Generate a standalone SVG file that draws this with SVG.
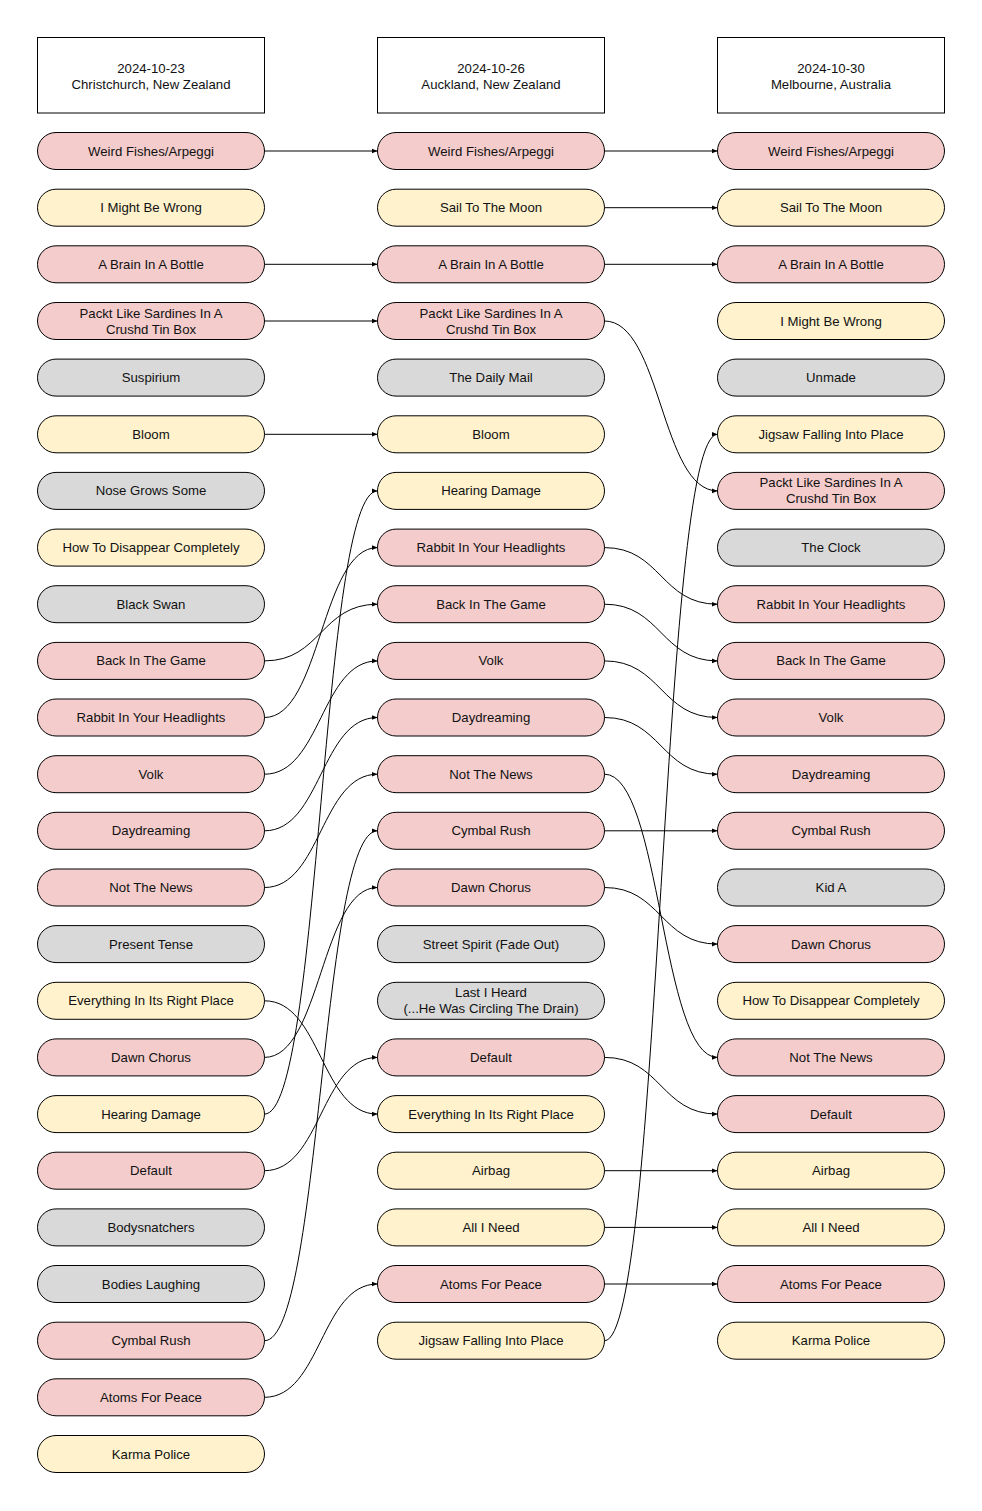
<svg xmlns="http://www.w3.org/2000/svg" width="982" height="1511" viewBox="0 0 982 1511">
<defs>
<marker id="ah" markerWidth="6" markerHeight="6" refX="6" refY="3" orient="auto" markerUnits="userSpaceOnUse"><path d="M0,0.5 L6,3 L0,5.5 z" fill="#000"/></marker>
<style>
.hd{fill:#fff;stroke:#000;stroke-width:1}
.p{fill:#f4cccc;stroke:#000;stroke-width:1}
.y{fill:#fff2cc;stroke:#000;stroke-width:1}
.g{fill:#d9d9d9;stroke:#000;stroke-width:1}
text{font-family:"Liberation Sans",Arial,sans-serif;font-size:13.2px;fill:#111;text-anchor:middle}
.c path{fill:none;stroke:#000;stroke-width:1;marker-end:url(#ah)}
</style>
</defs>
<rect width="982" height="1511" fill="#fff"/>
<g id="h1"><rect class="hd" x="37.5" y="37.5" width="227" height="75.5"/><text x="151" y="72.5">2024-10-23</text><text x="151" y="88.5">Christchurch, New Zealand</text></g>
<g id="h2"><rect class="hd" x="377.5" y="37.5" width="227" height="75.5"/><text x="491" y="72.5">2024-10-26</text><text x="491" y="88.5">Auckland, New Zealand</text></g>
<g id="h3"><rect class="hd" x="717.5" y="37.5" width="227" height="75.5"/><text x="831" y="72.5">2024-10-30</text><text x="831" y="88.5">Melbourne, Australia</text></g>

<g id="a1"><rect class="p" x="37.5" y="132.5" width="227" height="37" rx="18.5"/><text x="151" y="155.5">Weird Fishes/Arpeggi</text></g>
<g id="a2"><rect class="y" x="37.5" y="189.2" width="227" height="37" rx="18.5"/><text x="151" y="212.2">I Might Be Wrong</text></g>
<g id="a3"><rect class="p" x="37.5" y="245.8" width="227" height="37" rx="18.5"/><text x="151" y="268.8">A Brain In A Bottle</text></g>
<g id="a4"><rect class="p" x="37.5" y="302.5" width="227" height="37" rx="18.5"/><text x="151" y="317.5">Packt Like Sardines In A</text><text x="151" y="333.5">Crushd Tin Box</text></g>
<g id="a5"><rect class="g" x="37.5" y="359.1" width="227" height="37" rx="18.5"/><text x="151" y="382.1">Suspirium</text></g>
<g id="a6"><rect class="y" x="37.5" y="415.8" width="227" height="37" rx="18.5"/><text x="151" y="438.8">Bloom</text></g>
<g id="a7"><rect class="g" x="37.5" y="472.4" width="227" height="37" rx="18.5"/><text x="151" y="495.4">Nose Grows Some</text></g>
<g id="a8"><rect class="y" x="37.5" y="529.1" width="227" height="37" rx="18.5"/><text x="151" y="552.1">How To Disappear Completely</text></g>
<g id="a9"><rect class="g" x="37.5" y="585.7" width="227" height="37" rx="18.5"/><text x="151" y="608.7">Black Swan</text></g>
<g id="a10"><rect class="p" x="37.5" y="642.4" width="227" height="37" rx="18.5"/><text x="151" y="665.4">Back In The Game</text></g>
<g id="a11"><rect class="p" x="37.5" y="699" width="227" height="37" rx="18.5"/><text x="151" y="722">Rabbit In Your Headlights</text></g>
<g id="a12"><rect class="p" x="37.5" y="755.7" width="227" height="37" rx="18.5"/><text x="151" y="778.7">Volk</text></g>
<g id="a13"><rect class="p" x="37.5" y="812.3" width="227" height="37" rx="18.5"/><text x="151" y="835.3">Daydreaming</text></g>
<g id="a14"><rect class="p" x="37.5" y="869" width="227" height="37" rx="18.5"/><text x="151" y="892">Not The News</text></g>
<g id="a15"><rect class="g" x="37.5" y="925.6" width="227" height="37" rx="18.5"/><text x="151" y="948.6">Present Tense</text></g>
<g id="a16"><rect class="y" x="37.5" y="982.3" width="227" height="37" rx="18.5"/><text x="151" y="1005.3">Everything In Its Right Place</text></g>
<g id="a17"><rect class="p" x="37.5" y="1038.9" width="227" height="37" rx="18.5"/><text x="151" y="1061.9">Dawn Chorus</text></g>
<g id="a18"><rect class="y" x="37.5" y="1095.6" width="227" height="37" rx="18.5"/><text x="151" y="1118.6">Hearing Damage</text></g>
<g id="a19"><rect class="p" x="37.5" y="1152.2" width="227" height="37" rx="18.5"/><text x="151" y="1175.2">Default</text></g>
<g id="a20"><rect class="g" x="37.5" y="1208.9" width="227" height="37" rx="18.5"/><text x="151" y="1231.9">Bodysnatchers</text></g>
<g id="a21"><rect class="g" x="37.5" y="1265.5" width="227" height="37" rx="18.5"/><text x="151" y="1288.5">Bodies Laughing</text></g>
<g id="a22"><rect class="p" x="37.5" y="1322.2" width="227" height="37" rx="18.5"/><text x="151" y="1345.2">Cymbal Rush</text></g>
<g id="a23"><rect class="p" x="37.5" y="1378.8" width="227" height="37" rx="18.5"/><text x="151" y="1401.8">Atoms For Peace</text></g>
<g id="a24"><rect class="y" x="37.5" y="1435.5" width="227" height="37" rx="18.5"/><text x="151" y="1458.5">Karma Police</text></g>

<g id="b1"><rect class="p" x="377.5" y="132.5" width="227" height="37" rx="18.5"/><text x="491" y="155.5">Weird Fishes/Arpeggi</text></g>
<g id="b2"><rect class="y" x="377.5" y="189.2" width="227" height="37" rx="18.5"/><text x="491" y="212.2">Sail To The Moon</text></g>
<g id="b3"><rect class="p" x="377.5" y="245.8" width="227" height="37" rx="18.5"/><text x="491" y="268.8">A Brain In A Bottle</text></g>
<g id="b4"><rect class="p" x="377.5" y="302.5" width="227" height="37" rx="18.5"/><text x="491" y="317.5">Packt Like Sardines In A</text><text x="491" y="333.5">Crushd Tin Box</text></g>
<g id="b5"><rect class="g" x="377.5" y="359.1" width="227" height="37" rx="18.5"/><text x="491" y="382.1">The Daily Mail</text></g>
<g id="b6"><rect class="y" x="377.5" y="415.8" width="227" height="37" rx="18.5"/><text x="491" y="438.8">Bloom</text></g>
<g id="b7"><rect class="y" x="377.5" y="472.4" width="227" height="37" rx="18.5"/><text x="491" y="495.4">Hearing Damage</text></g>
<g id="b8"><rect class="p" x="377.5" y="529.1" width="227" height="37" rx="18.5"/><text x="491" y="552.1">Rabbit In Your Headlights</text></g>
<g id="b9"><rect class="p" x="377.5" y="585.7" width="227" height="37" rx="18.5"/><text x="491" y="608.7">Back In The Game</text></g>
<g id="b10"><rect class="p" x="377.5" y="642.4" width="227" height="37" rx="18.5"/><text x="491" y="665.4">Volk</text></g>
<g id="b11"><rect class="p" x="377.5" y="699" width="227" height="37" rx="18.5"/><text x="491" y="722">Daydreaming</text></g>
<g id="b12"><rect class="p" x="377.5" y="755.7" width="227" height="37" rx="18.5"/><text x="491" y="778.7">Not The News</text></g>
<g id="b13"><rect class="p" x="377.5" y="812.3" width="227" height="37" rx="18.5"/><text x="491" y="835.3">Cymbal Rush</text></g>
<g id="b14"><rect class="p" x="377.5" y="869" width="227" height="37" rx="18.5"/><text x="491" y="892">Dawn Chorus</text></g>
<g id="b15"><rect class="g" x="377.5" y="925.6" width="227" height="37" rx="18.5"/><text x="491" y="948.6">Street Spirit (Fade Out)</text></g>
<g id="b16"><rect class="g" x="377.5" y="982.3" width="227" height="37" rx="18.5"/><text x="491" y="997.3">Last I Heard</text><text x="491" y="1013.3">(...He Was Circling The Drain)</text></g>
<g id="b17"><rect class="p" x="377.5" y="1038.9" width="227" height="37" rx="18.5"/><text x="491" y="1061.9">Default</text></g>
<g id="b18"><rect class="y" x="377.5" y="1095.6" width="227" height="37" rx="18.5"/><text x="491" y="1118.6">Everything In Its Right Place</text></g>
<g id="b19"><rect class="y" x="377.5" y="1152.2" width="227" height="37" rx="18.5"/><text x="491" y="1175.2">Airbag</text></g>
<g id="b20"><rect class="y" x="377.5" y="1208.9" width="227" height="37" rx="18.5"/><text x="491" y="1231.9">All I Need</text></g>
<g id="b21"><rect class="p" x="377.5" y="1265.5" width="227" height="37" rx="18.5"/><text x="491" y="1288.5">Atoms For Peace</text></g>
<g id="b22"><rect class="y" x="377.5" y="1322.2" width="227" height="37" rx="18.5"/><text x="491" y="1345.2">Jigsaw Falling Into Place</text></g>

<g id="c1"><rect class="p" x="717.5" y="132.5" width="227" height="37" rx="18.5"/><text x="831" y="155.5">Weird Fishes/Arpeggi</text></g>
<g id="c2"><rect class="y" x="717.5" y="189.2" width="227" height="37" rx="18.5"/><text x="831" y="212.2">Sail To The Moon</text></g>
<g id="c3"><rect class="p" x="717.5" y="245.8" width="227" height="37" rx="18.5"/><text x="831" y="268.8">A Brain In A Bottle</text></g>
<g id="c4"><rect class="y" x="717.5" y="302.5" width="227" height="37" rx="18.5"/><text x="831" y="325.5">I Might Be Wrong</text></g>
<g id="c5"><rect class="g" x="717.5" y="359.1" width="227" height="37" rx="18.5"/><text x="831" y="382.1">Unmade</text></g>
<g id="c6"><rect class="y" x="717.5" y="415.8" width="227" height="37" rx="18.5"/><text x="831" y="438.8">Jigsaw Falling Into Place</text></g>
<g id="c7"><rect class="p" x="717.5" y="472.4" width="227" height="37" rx="18.5"/><text x="831" y="487.4">Packt Like Sardines In A</text><text x="831" y="503.4">Crushd Tin Box</text></g>
<g id="c8"><rect class="g" x="717.5" y="529.1" width="227" height="37" rx="18.5"/><text x="831" y="552.1">The Clock</text></g>
<g id="c9"><rect class="p" x="717.5" y="585.7" width="227" height="37" rx="18.5"/><text x="831" y="608.7">Rabbit In Your Headlights</text></g>
<g id="c10"><rect class="p" x="717.5" y="642.4" width="227" height="37" rx="18.5"/><text x="831" y="665.4">Back In The Game</text></g>
<g id="c11"><rect class="p" x="717.5" y="699" width="227" height="37" rx="18.5"/><text x="831" y="722">Volk</text></g>
<g id="c12"><rect class="p" x="717.5" y="755.7" width="227" height="37" rx="18.5"/><text x="831" y="778.7">Daydreaming</text></g>
<g id="c13"><rect class="p" x="717.5" y="812.3" width="227" height="37" rx="18.5"/><text x="831" y="835.3">Cymbal Rush</text></g>
<g id="c14"><rect class="g" x="717.5" y="869" width="227" height="37" rx="18.5"/><text x="831" y="892">Kid A</text></g>
<g id="c15"><rect class="p" x="717.5" y="925.6" width="227" height="37" rx="18.5"/><text x="831" y="948.6">Dawn Chorus</text></g>
<g id="c16"><rect class="y" x="717.5" y="982.3" width="227" height="37" rx="18.5"/><text x="831" y="1005.3">How To Disappear Completely</text></g>
<g id="c17"><rect class="p" x="717.5" y="1038.9" width="227" height="37" rx="18.5"/><text x="831" y="1061.9">Not The News</text></g>
<g id="c18"><rect class="p" x="717.5" y="1095.6" width="227" height="37" rx="18.5"/><text x="831" y="1118.6">Default</text></g>
<g id="c19"><rect class="y" x="717.5" y="1152.2" width="227" height="37" rx="18.5"/><text x="831" y="1175.2">Airbag</text></g>
<g id="c20"><rect class="y" x="717.5" y="1208.9" width="227" height="37" rx="18.5"/><text x="831" y="1231.9">All I Need</text></g>
<g id="c21"><rect class="p" x="717.5" y="1265.5" width="227" height="37" rx="18.5"/><text x="831" y="1288.5">Atoms For Peace</text></g>
<g id="c22"><rect class="y" x="717.5" y="1322.2" width="227" height="37" rx="18.5"/><text x="831" y="1345.2">Karma Police</text></g>

<g id="connectors" class="c">
<path d="M264.5,151 L377.5,151"/>
<path d="M264.5,264.3 L377.5,264.3"/>
<path d="M264.5,321 L377.5,321"/>
<path d="M264.5,434.3 L377.5,434.3"/>
<path d="M264.5,660.9 C321,660.9 321,604.2 377.5,604.2"/>
<path d="M264.5,717.5 C321,717.5 321,547.6 377.5,547.6"/>
<path d="M264.5,774.2 C321,774.2 321,660.9 377.5,660.9"/>
<path d="M264.5,830.8 C321,830.8 321,717.5 377.5,717.5"/>
<path d="M264.5,887.5 C321,887.5 321,774.2 377.5,774.2"/>
<path d="M264.5,1000.8 C321,1000.8 321,1114.1 377.5,1114.1"/>
<path d="M264.5,1057.4 C321,1057.4 321,887.5 377.5,887.5"/>
<path d="M264.5,1114.1 C321,1114.1 321,490.9 377.5,490.9"/>
<path d="M264.5,1170.7 C321,1170.7 321,1057.4 377.5,1057.4"/>
<path d="M264.5,1340.7 C321,1340.7 321,830.8 377.5,830.8"/>
<path d="M264.5,1397.3 C321,1397.3 321,1284 377.5,1284"/>

<path d="M604.5,151 L717.5,151"/>
<path d="M604.5,207.7 L717.5,207.7"/>
<path d="M604.5,264.3 L717.5,264.3"/>
<path d="M604.5,321 C661,321 661,490.9 717.5,490.9"/>
<path d="M604.5,547.6 C661,547.6 661,604.2 717.5,604.2"/>
<path d="M604.5,604.2 C661,604.2 661,660.9 717.5,660.9"/>
<path d="M604.5,660.9 C661,660.9 661,717.5 717.5,717.5"/>
<path d="M604.5,717.5 C661,717.5 661,774.2 717.5,774.2"/>
<path d="M604.5,774.2 C661,774.2 661,1057.4 717.5,1057.4"/>
<path d="M604.5,830.8 L717.5,830.8"/>
<path d="M604.5,887.5 C661,887.5 661,944.1 717.5,944.1"/>
<path d="M604.5,1057.4 C661,1057.4 661,1114.1 717.5,1114.1"/>
<path d="M604.5,1170.7 L717.5,1170.7"/>
<path d="M604.5,1227.4 L717.5,1227.4"/>
<path d="M604.5,1284 L717.5,1284"/>
<path d="M604.5,1340.7 C661,1340.7 661,434.3 717.5,434.3"/>
</g>
</svg>
